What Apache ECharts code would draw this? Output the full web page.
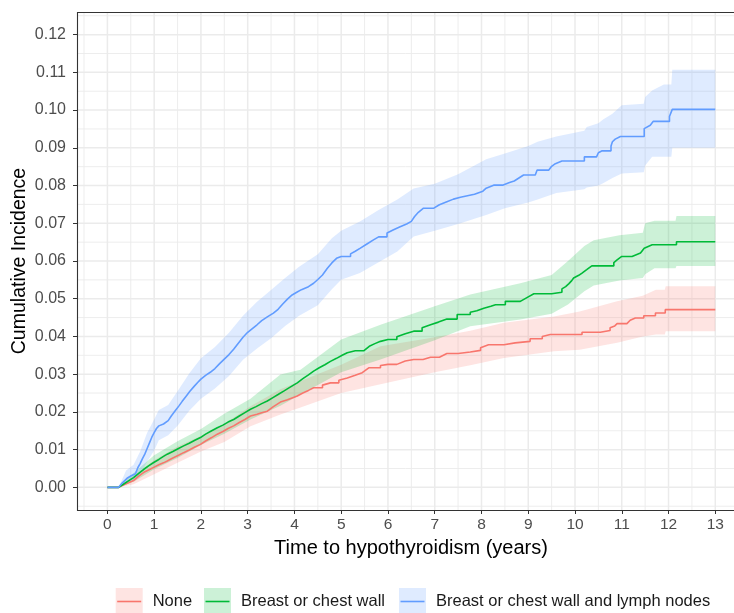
<!DOCTYPE html>
<html>
<head>
<meta charset="utf-8">
<script src="https://cdn.jsdelivr.net/npm/echarts@6/dist/echarts.min.js"></script>
<style>
html,body{margin:0;padding:0;background:#fff;}
#chart{width:734px;height:613px;}
</style>
</head>
<body>
<div id="chart"></div>
<script>
// ---------- tick labels / breaks ----------
const xBreaks = [0,1,2,3,4,5,6,7,8,9,10,11,12,13];
const xMinorBreaks = [-0.5,0.5,1.5,2.5,3.5,4.5,5.5,6.5,7.5,8.5,9.5,10.5,11.5,12.5,13.5];
const yBreaks = [0,0.01,0.02,0.03,0.04,0.05,0.06,0.07,0.08,0.09,0.10,0.11,0.12];
const yMinorBreaks = [-0.005,0.005,0.015,0.025,0.035,0.045,0.055,0.065,0.075,0.085,0.095,0.105,0.115,0.125];

// ---------- categories ----------
const groupNames = ['None','Breast or chest wall','Breast or chest wall and lymph nodes'];

// ---------- estimates: [time, cumulative incidence] (value holds from that time on) ----------
const noneEstimate = [[0,0],[0.24,0.0002],[0.35,0.0007],[0.45,0.0012],[0.56,0.0018],[0.67,0.003],[0.78,0.004],[0.88,0.0046],[0.99,0.0053],[1.1,0.006],[1.2,0.0065],[1.28,0.007],[1.4,0.0078],[1.52,0.0085],[1.63,0.0092],[1.75,0.0099],[1.87,0.0107],[1.99,0.0114],[2.1,0.0123],[2.23,0.0132],[2.35,0.0141],[2.47,0.0148],[2.58,0.0156],[2.7,0.0163],[2.82,0.0172],[2.94,0.018],[3.06,0.0189],[3.2,0.0194],[3.3,0.0198],[3.42,0.0202],[3.55,0.0214],[3.7,0.0226],[3.85,0.0232],[3.95,0.0237],[4.06,0.0242],[4.18,0.025],[4.3,0.0257],[4.41,0.0264],[4.6,0.0271],[4.77,0.0277],[4.95,0.0284],[5.13,0.029],[5.3,0.0297],[5.45,0.0304],[5.59,0.0317],[5.84,0.0323],[6.0,0.0326],[6.19,0.033],[6.37,0.0335],[6.55,0.0339],[6.75,0.0342],[6.91,0.0345],[7.1,0.035],[7.26,0.0355],[7.5,0.0359],[7.76,0.0363],[7.98,0.037],[8.15,0.0378],[8.48,0.0383],[8.72,0.0387],[9.04,0.0394],[9.3,0.04],[9.47,0.0405],[10.15,0.0411],[10.54,0.0416],[10.75,0.0423],[10.85,0.0428],[10.9,0.0434],[11.11,0.0436],[11.18,0.0443],[11.29,0.0449],[11.47,0.0455],[11.72,0.0462],[11.93,0.0471],[13,0.0471]];

const chestEstimate = [[0,0],[0.24,0.0003],[0.35,0.0009],[0.45,0.0017],[0.56,0.0026],[0.67,0.0037],[0.78,0.0048],[0.88,0.0057],[0.99,0.0066],[1.1,0.0074],[1.2,0.0082],[1.28,0.0088],[1.4,0.0095],[1.52,0.0103],[1.63,0.011],[1.75,0.0117],[1.87,0.0125],[1.99,0.0132],[2.1,0.0141],[2.23,0.015],[2.35,0.0158],[2.47,0.0165],[2.58,0.0173],[2.7,0.018],[2.82,0.0189],[2.94,0.0198],[3.06,0.0207],[3.18,0.0214],[3.3,0.0222],[3.42,0.0229],[3.54,0.0238],[3.65,0.0246],[3.77,0.0255],[3.9,0.0265],[4.06,0.0277],[4.18,0.0288],[4.3,0.0298],[4.41,0.0308],[4.53,0.0317],[4.65,0.0325],[4.77,0.0334],[4.9,0.0342],[5.02,0.035],[5.13,0.0357],[5.3,0.0362],[5.48,0.0367],[5.6,0.0374],[5.72,0.0381],[5.84,0.0387],[6.0,0.0392],[6.19,0.0399],[6.37,0.0407],[6.55,0.0414],[6.73,0.0423],[6.91,0.0431],[7.08,0.0438],[7.26,0.0446],[7.48,0.0458],[7.76,0.0464],[7.9,0.0468],[8.05,0.0475],[8.2,0.048],[8.3,0.0484],[8.51,0.0493],[8.83,0.0497],[9.0,0.0505],[9.12,0.0513],[9.5,0.0517],[9.72,0.0526],[9.8,0.0532],[9.87,0.054],[9.93,0.0548],[9.97,0.0555],[10.08,0.0562],[10.15,0.0568],[10.25,0.0577],[10.36,0.0587],[10.83,0.0596],[10.9,0.0603],[11.0,0.0612],[11.22,0.0616],[11.4,0.0621],[11.48,0.0634],[11.65,0.0643],[12.17,0.0651],[13,0.0651]];

const nodesEstimate = [[0,0],[0.24,0.0003],[0.32,0.0012],[0.42,0.0024],[0.5,0.003],[0.6,0.0036],[0.65,0.0052],[0.7,0.0063],[0.75,0.0076],[0.8,0.0088],[0.85,0.0103],[0.9,0.0118],[0.95,0.0133],[1.0,0.0145],[1.05,0.0156],[1.1,0.0163],[1.2,0.0168],[1.3,0.0177],[1.37,0.019],[1.45,0.0203],[1.53,0.0216],[1.6,0.0228],[1.68,0.0241],[1.76,0.0254],[1.85,0.0267],[1.93,0.0278],[2.0,0.0287],[2.1,0.0297],[2.2,0.0305],[2.3,0.0315],[2.4,0.0328],[2.5,0.034],[2.6,0.0352],[2.7,0.0366],[2.8,0.0382],[2.9,0.0398],[3.0,0.0411],[3.1,0.0421],[3.2,0.0431],[3.3,0.0442],[3.42,0.0452],[3.55,0.0462],[3.65,0.0472],[3.75,0.0486],[3.85,0.0499],[3.95,0.051],[4.05,0.0517],[4.15,0.0524],[4.3,0.0532],[4.41,0.0541],[4.5,0.0551],[4.6,0.0563],[4.7,0.058],[4.8,0.0595],[4.9,0.0607],[5.0,0.0612],[5.2,0.0619],[5.3,0.0626],[5.41,0.0634],[5.55,0.0645],[5.69,0.0656],[5.8,0.0664],[5.98,0.0674],[6.12,0.0683],[6.26,0.0691],[6.4,0.0698],[6.5,0.0705],[6.57,0.0718],[6.65,0.0729],[6.76,0.074],[6.98,0.0744],[7.1,0.0749],[7.26,0.0757],[7.4,0.0764],[7.55,0.0769],[7.7,0.0773],[7.85,0.0777],[8.03,0.0785],[8.1,0.0793],[8.26,0.0801],[8.45,0.0804],[8.6,0.0808],[8.7,0.0812],[8.8,0.082],[8.9,0.0828],[9.15,0.0832],[9.19,0.0841],[9.44,0.0843],[9.5,0.0851],[9.58,0.0858],[9.72,0.0865],[10.2,0.0876],[10.46,0.0878],[10.5,0.0887],[10.58,0.0892],[10.77,0.0905],[10.8,0.0916],[10.86,0.0923],[10.97,0.093],[11.48,0.0951],[11.61,0.096],[11.67,0.097],[12.02,0.0983],[12.08,0.1002],[13,0.1002]];

// ---------- confidence bands: time, lower, upper ----------
const noneBandTime = [0,0.24,0.56,1.0,1.5,2.0,2.5,3.06,3.7,4.13,5.0,5.84,7.0,7.76,8.48,9.55,10.1,10.9,11.45,11.73,11.92,11.94,13];
const noneBandLow  = [0,0,0.0008,0.0035,0.0065,0.0095,0.012,0.0162,0.0193,0.0212,0.025,0.0273,0.0305,0.0324,0.0343,0.0361,0.0365,0.0383,0.04,0.0405,0.0405,0.0414,0.0414];
const noneBandHigh = [0,0,0.003,0.0072,0.0108,0.0136,0.0168,0.0215,0.026,0.0282,0.0325,0.0374,0.0398,0.0415,0.0436,0.0453,0.0466,0.0493,0.0508,0.0524,0.0524,0.0533,0.0533];

const chestBandTime = [0,0.24,0.56,1.0,1.5,2.0,2.5,3.06,3.7,4.13,5.0,5.84,7.0,7.76,8.83,9.5,9.85,10.2,10.4,10.95,11.45,11.5,11.7,12.15,12.17,13];
const chestBandLow  = [0,0,0.0015,0.0048,0.0078,0.0112,0.0142,0.018,0.0216,0.0246,0.0305,0.0339,0.039,0.0427,0.0445,0.046,0.0485,0.052,0.0535,0.0548,0.0555,0.0565,0.0581,0.0581,0.0587,0.0587];
const chestBandHigh = [0,0,0.0038,0.0085,0.0122,0.0155,0.0195,0.0235,0.0299,0.0312,0.0392,0.0431,0.048,0.0511,0.0541,0.0563,0.06,0.064,0.0655,0.0668,0.0675,0.07,0.0707,0.0707,0.0719,0.0719];

const nodesBandTime = [0,0.24,0.4,0.56,0.7,0.85,1.0,1.1,1.3,1.5,1.75,2.0,2.3,2.6,2.9,3.2,3.5,3.8,4.1,4.5,4.8,5.0,5.4,5.8,6.2,6.55,7.0,7.5,7.8,8.1,8.5,9.0,9.2,9.6,10.2,10.25,10.5,10.6,10.8,11.0,11.47,11.5,11.65,11.9,12.06,12.08,13];
const nodesBandLow  = [0,0,0.001,0.0018,0.0035,0.0068,0.0098,0.0125,0.0138,0.0163,0.0203,0.0235,0.0262,0.0295,0.0338,0.0368,0.0395,0.0428,0.0455,0.0483,0.0525,0.055,0.0568,0.0597,0.0625,0.0665,0.068,0.0698,0.071,0.0722,0.074,0.0755,0.0763,0.078,0.079,0.0795,0.08,0.0806,0.082,0.0832,0.0835,0.0853,0.0876,0.0876,0.0876,0.09,0.09];
const nodesBandHigh = [0,0,0.0045,0.006,0.0095,0.0145,0.018,0.0205,0.0218,0.0255,0.0302,0.0342,0.0372,0.041,0.0455,0.0492,0.0523,0.0555,0.0585,0.0618,0.066,0.068,0.0705,0.0735,0.0763,0.0792,0.0805,0.083,0.085,0.087,0.0885,0.0905,0.0916,0.093,0.0945,0.0955,0.0965,0.0975,0.099,0.1013,0.1017,0.1035,0.1052,0.1068,0.1068,0.1107,0.1107];

// ---------- styling ----------
const lineColors = ['#F8766D','#00BA38','#619CFF'];
const bandColors = ['rgba(248,118,109,0.2)','rgba(0,186,56,0.2)','rgba(97,156,255,0.2)'];
const FONT = '"Liberation Sans", Arial, Helvetica, sans-serif';

// drawing helper: long gaps are drawn as flat-then-jump (step), short gaps joined directly
function stepPath(est) {
  const out = [est[0]];
  for (let i = 1; i < est.length; i++) {
    if (est[i][0] - est[i - 1][0] >= 0.18) out.push([est[i][0], est[i - 1][1]]);
    out.push(est[i]);
  }
  return out;
}

function bandRender(time, low, high, fill) {
  return function (params, api) {
    const pts = [];
    for (let i = 0; i < time.length; i++) pts.push(api.coord([time[i], high[i]]));
    for (let i = time.length - 1; i >= 0; i--) pts.push(api.coord([time[i], low[i]]));
    return { type: 'polygon', shape: { points: pts }, style: { fill: fill }, silent: true };
  };
}

function gridRender(params, api) {
  const cs = params.coordSys;
  const children = [];
  const stroke = '#ebebeb';
  function vline(v, w) {
    const x = api.coord([v, 0])[0];
    if (x < cs.x || x > cs.x + cs.width) return;
    children.push({ type: 'line', shape: { x1: x, y1: cs.y, x2: x, y2: cs.y + cs.height }, style: { stroke: stroke, lineWidth: w } });
  }
  function hline(v, w) {
    const y = api.coord([0, v])[1];
    children.push({ type: 'line', shape: { x1: cs.x, y1: y, x2: cs.x + cs.width, y2: y }, style: { stroke: stroke, lineWidth: w } });
  }
  xMinorBreaks.forEach(function (v) { vline(v, 0.9); });
  yMinorBreaks.forEach(function (v) { hline(v, 0.9); });
  xBreaks.forEach(function (v) { vline(v, 1.5); });
  yBreaks.forEach(function (v) { hline(v, 1.5); });
  return { type: 'group', children: children, silent: true };
}

function borderRender(params, api) {
  const cs = params.coordSys;
  const x0 = cs.x + 0.5, y0 = cs.y + 0.5, y1 = cs.y + cs.height + 0.5, x1 = cs.x + cs.width + 2;
  return { type: 'polyline', shape: { points: [[x1, y0], [x0, y0], [x0, y1], [x1, y1]] },
           style: { fill: 'none', stroke: '#333333', lineWidth: 1.1 }, silent: true };
}

const estimates = [noneEstimate, chestEstimate, nodesEstimate];
const bands = [
  [noneBandTime, noneBandLow, noneBandHigh],
  [chestBandTime, chestBandLow, chestBandHigh],
  [nodesBandTime, nodesBandLow, nodesBandHigh]
];

const series = [];
series.push({ type: 'custom', name: 'grid', coordinateSystem: 'cartesian2d', data: [[0, 0]], encode: { x: 0, y: 1 }, z: 1, silent: true, renderItem: gridRender });
bands.forEach(function (b, i) {
  series.push({ type: 'custom', name: groupNames[i] + ' CI', coordinateSystem: 'cartesian2d', data: [[0, 0]], encode: { x: 0, y: 1 }, z: 2, silent: true,
    renderItem: bandRender(b[0], b[1], b[2], bandColors[i]) });
});
estimates.forEach(function (d, i) {
  series.push({ type: 'line', name: groupNames[i], data: stepPath(d), showSymbol: false, symbol: 'none', z: 3,
    lineStyle: { color: lineColors[i], width: 1.6 }, itemStyle: { color: lineColors[i] }, silent: true });
});
series.push({ type: 'custom', name: 'border', coordinateSystem: 'cartesian2d', data: [[0, 0]], encode: { x: 0, y: 1 }, z: 4, silent: true, renderItem: borderRender });

// legends: one per group, placed like the reference
const legendLeft = [115.7, 204, 399];
const legendTop = 588;
const legends = groupNames.map(function (n, i) {
  return {
    left: legendLeft[i], top: legendTop, padding: 0, orient: 'horizontal',
    itemWidth: 27, itemHeight: 27, selectedMode: false,
    data: [{ name: n, icon: 'rect', itemStyle: { color: bandColors[i], borderWidth: 0 } }],
    textStyle: { fontFamily: FONT, fontSize: 16.5, color: '#1a1a1a', padding: [0, 0, 0, 5] }
  };
});
const legendGraphics = groupNames.map(function (n, i) {
  return { type: 'line', z: 100, silent: true,
    shape: { x1: legendLeft[i] + 1.5, y1: legendTop + 13.5, x2: legendLeft[i] + 25.5, y2: legendTop + 13.5 },
    style: { stroke: lineColors[i], lineWidth: 1.6 } };
});

const chart = echarts.init(document.getElementById('chart'), null, { renderer: 'canvas' });
chart.setOption({
  backgroundColor: '#ffffff',
  animation: false,
  grid: { left: 77, top: 12, right: 0, bottom: 103, show: false, containLabel: false, outerBoundsMode: 'none' },
  xAxis: {
    type: 'value', min: -0.65, max: 13.4,
    name: 'Time to hypothyroidism (years)', nameLocation: 'middle', nameGap: 28, nameMoveOverlap: false,
    nameTextStyle: { fontFamily: FONT, fontSize: 20, color: '#000', padding: [0, 0, 0, 11] },
    axisLine: { show: false, onZero: false },
    axisTick: { show: true, length: 4, lineStyle: { color: '#333', width: 1 }, customValues: xBreaks },
    axisLabel: { show: true, margin: 7, fontFamily: FONT, fontSize: 15.5, color: '#4d4d4d', customValues: xBreaks,
      formatter: function (v) { return String(Math.round(v)); } },
    splitLine: { show: false }
  },
  yAxis: {
    type: 'value', min: -0.006, max: 0.126,
    name: 'Cumulative Incidence', nameLocation: 'middle', nameGap: 47, nameRotate: 90, nameMoveOverlap: false,
    nameTextStyle: { fontFamily: FONT, fontSize: 19.5, color: '#000' },
    axisLine: { show: false, onZero: false },
    axisTick: { show: true, length: 4, lineStyle: { color: '#333', width: 1 }, customValues: yBreaks },
    axisLabel: { show: true, margin: 11, fontFamily: FONT, fontSize: 16, color: '#4d4d4d', customValues: yBreaks,
      formatter: function (v) { return v.toFixed(2); } },
    splitLine: { show: false }
  },
  legend: legends,
  graphic: legendGraphics,
  series: series
});
</script>
</body>
</html>
